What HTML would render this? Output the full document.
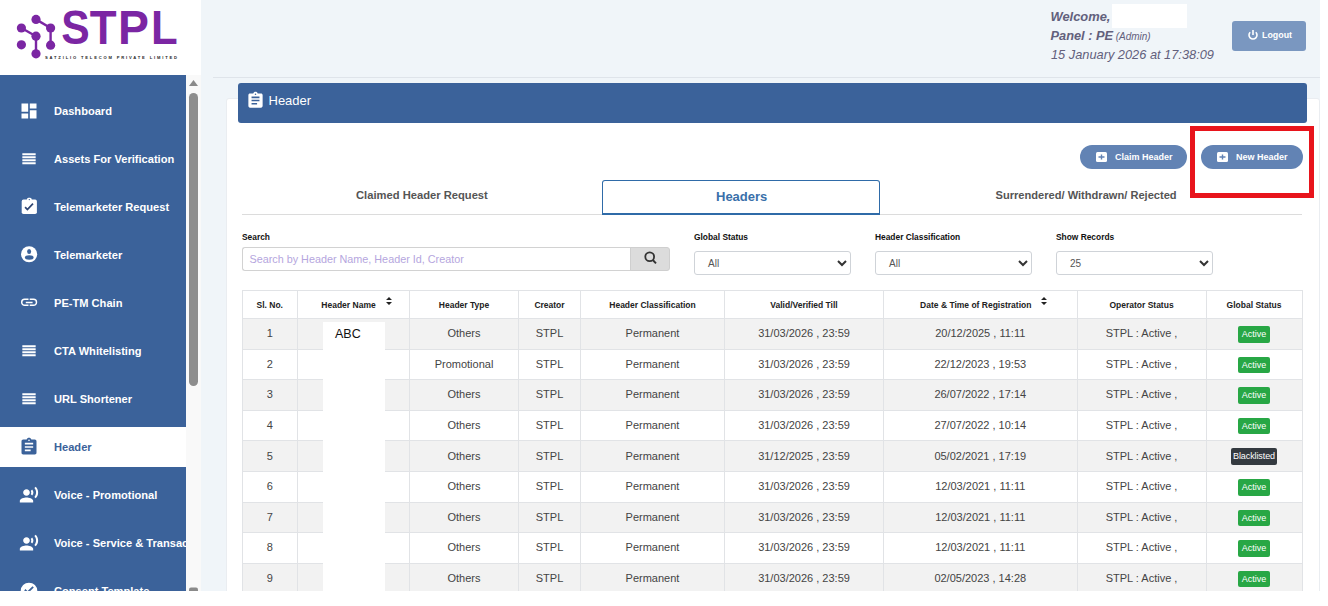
<!DOCTYPE html>
<html><head><meta charset="utf-8">
<style>
*{box-sizing:border-box;margin:0;padding:0}
html,body{width:1328px;height:606px;overflow:hidden;background:#fff;font-family:"Liberation Sans",sans-serif}
#page{position:absolute;left:0;top:0;width:1320px;height:591px;overflow:hidden;background:#f0f5f9}
.abs{position:absolute}
#logo{left:0;top:0;width:201px;height:75px;background:#fff}
#side{left:0;top:75px;width:186px;height:516px;background:#3b629a;overflow:hidden}
#track{left:186px;top:75px;width:15px;height:516px;background:#f9f9f9}
.item{position:absolute;left:0;width:186px;height:40px;color:#fff;font-weight:bold;font-size:11px;white-space:nowrap}
.item span{position:absolute;left:54px;top:13px;line-height:14px;font-size:11.1px}
.item svg{position:absolute;left:19px;top:10px;width:20px;height:20px}
.item.active{background:#fff;color:#3b629a}
#hdrline{left:213px;top:77px;width:1107px;height:1px;background:#dfe4ea}
#card{left:226px;top:98px;width:1094px;height:520px;background:#fff;border:1px solid #eaedf1;border-radius:3px}
#bar{left:238px;top:83px;width:1069px;height:40px;background:#3b629a;border-radius:3px;color:#fff;font-size:13px}
.welcome{color:#62607c;font-style:italic;white-space:nowrap}
.btnpill{position:absolute;height:24px;border-radius:12px;background:#6283b4;color:#fff;font-weight:bold;font-size:9px}
.lbl{position:absolute;font-size:8.4px;font-weight:bold;color:#111;white-space:nowrap}
.sel{position:absolute;height:24px;border:1px solid #cfd3d8;border-radius:3px;background:#fff;font-size:10px;color:#555}
.sel span{position:absolute;left:13px;top:6px}
.sel svg{position:absolute;right:2px;top:6px}
table{position:absolute;left:241.5px;top:290px;border-collapse:collapse;table-layout:fixed;width:1060px}
th,td{border:1px solid #e1e3e6;text-align:center;white-space:nowrap;overflow:hidden}
th{height:28px;font-size:8.5px;font-weight:bold;color:#222;background:#fff}
td{height:30.6px;font-size:11px;color:#444;padding-bottom:1px}
tr.o td{background:#f2f2f2}
.badge{display:inline-block;background:#28a745;color:#fff;font-size:9px;padding:0 3.5px;height:16.5px;line-height:16.5px;border-radius:2px;vertical-align:middle;position:relative;top:1px}
.badge.dark{padding:0 2.5px;letter-spacing:-0.1px}
.badge.dark{background:#343a40}
</style></head><body>
<div id="page">
  <div id="logo" class="abs">
    <svg class="abs" style="left:0;top:0" width="190" height="70" viewBox="0 0 190 70">
      <g stroke="#7b26a3" stroke-width="2.4" fill="none">
        <line x1="21.4" y1="28" x2="36" y2="36.2"/>
        <line x1="36" y1="19.4" x2="50.6" y2="28"/>
        <line x1="50.6" y1="28" x2="50.6" y2="45.2"/>
        <line x1="36" y1="36.2" x2="36" y2="53.8"/>
      </g>
      <g fill="#7b26a3">
        <circle cx="21.4" cy="28" r="4.6"/>
        <circle cx="36" cy="19.4" r="4.6"/>
        <circle cx="50.6" cy="28" r="4.6"/>
        <circle cx="36" cy="36.2" r="4.6"/>
        <circle cx="21.4" cy="44.8" r="4.6"/>
        <circle cx="50.6" cy="45.2" r="4.6"/>
        <circle cx="36" cy="53.8" r="4.6"/>
      </g>
      <g font-family="Liberation Sans" font-weight="bold" font-size="48.3" fill="#7b26a3">
        <text transform="translate(61.2 44.2) scale(0.883 1)">S</text>
        <text transform="translate(89.66 44.2) scale(0.909 1)">T</text>
        <text transform="translate(118.05 44.2) scale(0.961 1)">P</text>
        <text transform="translate(150.94 44.2) scale(0.905 1)">L</text>
      </g>
      <text x="45" y="58.8" font-family="Liberation Sans" font-weight="bold" font-size="4.1" fill="#1e1e1e" textLength="132" lengthAdjust="spacing">SATZILIO TELECOM PRIVATE LIMITED</text>
    </svg>
  </div>
  <div id="side" class="abs">
<div class="item" style="top:16px"><svg viewBox="0 0 24 24"><path fill="#fff" d="M3 13h8V3H3v10zm0 8h8v-6H3v6zm10 0h8V11h-8v10zm0-18v6h8V3h-8z"/></svg><span>Dashboard</span></div>
<div class="item" style="top:64px"><svg viewBox="0 0 24 24"><path fill="#fff" d="M4 5h16v2.5H4zM4 8.6h16v2.5H4zM4 12.2h16v2.5H4zM4 15.8h16v2.5H4z"/></svg><span>Assets For Verification</span></div>
<div class="item" style="top:112px"><svg viewBox="0 0 20 20"><rect x="2.7" y="2.6" width="15.2" height="14.4" rx="1.8" fill="#fff"/><rect x="7.9" y="0.8" width="4.8" height="3.4" rx="1.6" fill="#fff"/><circle cx="10.3" cy="2.6" r="0.7" fill="#3b629a"/><path d="M6.1 10.1L8.4 12.6L14 6.6" stroke="#2e4572" stroke-width="1.7" fill="none"/></svg><span>Telemarketer Request</span></div>
<div class="item" style="top:160px"><svg viewBox="0 0 24 24"><circle cx="12.12" cy="11.1" r="9.7" fill="#fff"/><ellipse cx="12.12" cy="7.8" rx="2.4" ry="3" fill="#3b629a"/><ellipse cx="12.3" cy="15" rx="5.2" ry="2.7" fill="#3b629a"/></svg><span>Telemarketer</span></div>
<div class="item" style="top:208px"><svg viewBox="0 0 20 20"><path d="M9.5 6.3H5.7A3 3 0 0 0 5.7 12.3H9.5M10.7 6.3H14.5A3 3 0 0 1 14.5 12.3H10.7M6.8 9.4H13.6" stroke="#fff" stroke-width="1.45" fill="none"/></svg><span>PE-TM Chain</span></div>
<div class="item" style="top:256px"><svg viewBox="0 0 24 24"><path fill="#fff" d="M4 5h16v2.5H4zM4 8.6h16v2.5H4zM4 12.2h16v2.5H4zM4 15.8h16v2.5H4z"/></svg><span>CTA Whitelisting</span></div>
<div class="item" style="top:304px"><svg viewBox="0 0 24 24"><path fill="#fff" d="M4 5h16v2.5H4zM4 8.6h16v2.5H4zM4 12.2h16v2.5H4zM4 15.8h16v2.5H4z"/></svg><span>URL Shortener</span></div>
<div class="item active" style="top:352px"><svg viewBox="0 0 24 24"><path fill="#3b629a" d="M19 3h-4.18C14.4 1.84 13.3 1 12 1c-1.3 0-2.4.84-2.82 2H5c-1.1 0-2 .9-2 2v14c0 1.1.9 2 2 2h14c1.1 0 2-.9 2-2V5c0-1.1-.9-2-2-2zm-7 0c.55 0 1 .45 1 1s-.45 1-1 1-1-.45-1-1 .45-1 1-1zm2 14H7v-2h7v2zm3-4H7v-2h10v2zm0-4H7V7h10v2z"/></svg><span>Header</span></div>
<div class="item" style="top:400px"><svg viewBox="0 0 24 24"><path fill="#fff" d="M9 13c2.21 0 4-1.79 4-4s-1.79-4-4-4-4 1.79-4 4 1.79 4 4 4zm0 2c-2.67 0-8 1.34-8 4v2h16v-2c0-2.660-5.330-4-8-4zm6.76-9.64l-1.68 1.69c.84 1.18.84 2.71 0 3.89l1.68 1.690c2.02-2.02 2.02-5.07 0-7.27zM20.07 2l-1.63 1.63c2.77 3.02 2.77 7.56 0 10.74L20.07 16c3.9-3.89 3.91-9.95 0-14z"/></svg><span>Voice - Promotional</span></div>
<div class="item" style="top:448px"><svg viewBox="0 0 24 24"><path fill="#fff" d="M9 13c2.21 0 4-1.79 4-4s-1.79-4-4-4-4 1.79-4 4 1.79 4 4 4zm0 2c-2.67 0-8 1.34-8 4v2h16v-2c0-2.660-5.330-4-8-4zm6.76-9.64l-1.68 1.69c.84 1.18.84 2.71 0 3.89l1.68 1.690c2.02-2.02 2.02-5.07 0-7.27zM20.07 2l-1.63 1.63c2.77 3.02 2.77 7.56 0 10.74L20.07 16c3.9-3.89 3.91-9.95 0-14z"/></svg><span>Voice - Service &amp; Transactional</span></div>
<div class="item" style="top:496px"><svg viewBox="0 0 24 24"><circle cx="12" cy="12" r="10" fill="#fff"/><path d="M7 10.5l3.2 3.2L17 7" stroke="#3b629a" stroke-width="2.2" fill="none"/></svg><span>Consent Template</span></div>
</div>
  <div id="track" class="abs">
    <svg class="abs" style="left:0;top:0" width="15" height="516">
      <path d="M3 11 L7.5 5 L12 11 Z" fill="#8a8a8a"/>
      <rect x="3" y="18" width="9" height="293" rx="4.5" fill="#8d8d8d"/>
      <rect x="3" y="512.5" width="9" height="5" rx="2" fill="#8a8a8a"/>
    </svg>
  </div>

  <div id="hdrline" class="abs"></div>
  <div class="abs welcome" style="left:1050.5px;top:8.7px;font-size:12.9px;font-weight:bold;line-height:16px">Welcome,</div>
  <div class="abs" style="left:1112px;top:4px;width:75px;height:24px;background:#fff"></div>
  <div class="abs welcome" style="left:1050.5px;top:27.5px;font-size:12.8px;font-weight:bold;line-height:16px">Panel : PE <span style="font-size:10px;font-weight:normal;margin-left:-1px">(Admin)</span></div>
  <div class="abs welcome" style="left:1051px;top:46.7px;font-size:12.8px;line-height:16px">15 January 2026 at 17:38:09</div>
  <div class="abs" style="left:1232px;top:21px;width:74px;height:30px;background:#7a97c0;border-radius:3px;color:#fff;font-size:9.5px;font-weight:bold">
    <svg class="abs" style="left:15px;top:8px" width="12" height="12" viewBox="0 0 12 12"><path d="M3.2 3.2 A4 4 0 1 0 8.8 3.2" stroke="#fff" stroke-width="1.6" fill="none"/><line x1="6" y1="1" x2="6" y2="6" stroke="#fff" stroke-width="1.6"/></svg>
    <span class="abs" style="left:30px;top:9px;font-size:8.9px">Logout</span>
  </div>

  <div id="card" class="abs"></div>
  <div id="bar" class="abs">
    <svg class="abs" style="left:7.5px;top:8px" width="19" height="19" viewBox="0 0 24 24"><path fill="#fff" d="M19 3h-4.18C14.4 1.84 13.3 1 12 1c-1.3 0-2.4.84-2.82 2H5c-1.1 0-2 .9-2 2v14c0 1.1.9 2 2 2h14c1.1 0 2-.9 2-2V5c0-1.1-.9-2-2-2zm-7 0c.55 0 1 .45 1 1s-.45 1-1 1-1-.45-1-1 .45-1 1-1zm2 14H7v-2h7v2zm3-4H7v-2h10v2zm0-4H7V7h10v2z"/></svg>
    <span class="abs" style="left:30.5px;top:9.8px">Header</span>
  </div>

  <div class="btnpill" style="left:1080px;top:145px;width:107px">
    <svg class="abs" style="left:16px;top:7px" width="11" height="10" viewBox="0 0 11 10"><rect x="0" y="0" width="11" height="10" rx="1.5" fill="#fff"/><path d="M2.5 5h6M5.5 2.5v5" stroke="#6283b4" stroke-width="1.4"/></svg>
    <span class="abs" style="left:35px;top:7px">Claim Header</span>
  </div>
  <div class="btnpill" style="left:1201px;top:145px;width:102px">
    <svg class="abs" style="left:16px;top:7px" width="11" height="10" viewBox="0 0 11 10"><rect x="0" y="0" width="11" height="10" rx="1.5" fill="#fff"/><path d="M2.5 5h6M5.5 2.5v5" stroke="#6283b4" stroke-width="1.4"/></svg>
    <span class="abs" style="left:35px;top:7px">New Header</span>
  </div>
  <div class="abs" style="left:1190px;top:126px;width:124px;height:72px;border:5px solid #e8141c"></div>

  <!-- tabs -->
  <div class="abs" style="left:242px;top:214px;width:1060px;height:1px;background:#dcdcdc"></div>
  <div class="abs" style="left:356px;top:188.5px;font-size:11.2px;font-weight:bold;color:#555">Claimed Header Request</div>
  <div class="abs" style="left:602px;top:180px;width:278px;height:35px;border:1px solid #2f6ba8;border-bottom:2px solid #2f6ba8;border-radius:3px 3px 0 0;background:#fff"></div>
  <div class="abs" style="left:716px;top:189px;font-size:13px;font-weight:bold;color:#3a70aa">Headers</div>
  <div class="abs" style="left:995.5px;top:188.8px;font-size:11.1px;font-weight:bold;color:#555">Surrendered/ Withdrawn/ Rejected</div>

  <!-- filters -->
  <div class="lbl" style="left:242px;top:232px">Search</div>
  <div class="abs" style="left:242px;top:247px;width:389px;height:24px;border:1px solid #d2d2d2;border-right:none;border-radius:3px 0 0 3px;background:#fff">
    <span class="abs" style="left:6.5px;top:5px;font-size:10.8px;color:#b5a6de;white-space:nowrap">Search by Header Name, Header Id, Creator</span>
  </div>
  <div class="abs" style="left:630px;top:247px;width:40px;height:24px;border:1px solid #cfcfcf;border-radius:0 3px 3px 0;background:#dcdcdc">
    <svg class="abs" style="left:10px;top:0px" width="18" height="18" viewBox="0 0 18 18"><circle cx="8.7" cy="8.8" r="4.4" stroke="#333" stroke-width="1.8" fill="none"/><line x1="11.8" y1="12" x2="15" y2="15.4" stroke="#333" stroke-width="1.9"/></svg>
  </div>

  <div class="lbl" style="left:694px;top:232px">Global Status</div>
  <div class="sel" style="left:694px;top:251px;width:157px"><span>All</span><svg width="12" height="10" viewBox="0 0 12 10"><path d="M2 3l4 4 4-4" stroke="#333" stroke-width="2" fill="none"/></svg></div>
  <div class="lbl" style="left:875px;top:232px">Header Classification</div>
  <div class="sel" style="left:875px;top:251px;width:157px"><span>All</span><svg width="12" height="10" viewBox="0 0 12 10"><path d="M2 3l4 4 4-4" stroke="#333" stroke-width="2" fill="none"/></svg></div>
  <div class="lbl" style="left:1056px;top:232px">Show Records</div>
  <div class="sel" style="left:1056px;top:251px;width:157px"><span>25</span><svg width="12" height="10" viewBox="0 0 12 10"><path d="M2 3l4 4 4-4" stroke="#333" stroke-width="2" fill="none"/></svg></div>

  <table>
    <colgroup><col style="width:55.5px"><col style="width:112px"><col style="width:109px"><col style="width:62px"><col style="width:144px"><col style="width:159px"><col style="width:193.5px"><col style="width:129px"><col style="width:96px"></colgroup>
    <tr><th>Sl. No.</th><th style="padding-right:10px">Header Name</th><th>Header Type</th><th>Creator</th><th>Header Classification</th><th>Valid/Verified Till</th><th style="padding-right:9px">Date &amp; Time of Registration</th><th>Operator Status</th><th>Global Status</th></tr>
    <tr class="o"><td>1</td><td></td><td>Others</td><td>STPL</td><td>Permanent</td><td>31/03/2026 , 23:59</td><td>20/12/2025 , 11:11</td><td>STPL : Active ,</td><td><span class="badge">Active</span></td></tr>
    <tr><td>2</td><td></td><td>Promotional</td><td>STPL</td><td>Permanent</td><td>31/03/2026 , 23:59</td><td>22/12/2023 , 19:53</td><td>STPL : Active ,</td><td><span class="badge">Active</span></td></tr>
    <tr class="o"><td>3</td><td></td><td>Others</td><td>STPL</td><td>Permanent</td><td>31/03/2026 , 23:59</td><td>26/07/2022 , 17:14</td><td>STPL : Active ,</td><td><span class="badge">Active</span></td></tr>
    <tr><td>4</td><td></td><td>Others</td><td>STPL</td><td>Permanent</td><td>31/03/2026 , 23:59</td><td>27/07/2022 , 10:14</td><td>STPL : Active ,</td><td><span class="badge">Active</span></td></tr>
    <tr class="o"><td>5</td><td></td><td>Others</td><td>STPL</td><td>Permanent</td><td>31/12/2025 , 23:59</td><td>05/02/2021 , 17:19</td><td>STPL : Active ,</td><td><span class="badge dark">Blacklisted</span></td></tr>
    <tr><td>6</td><td></td><td>Others</td><td>STPL</td><td>Permanent</td><td>31/03/2026 , 23:59</td><td>12/03/2021 , 11:11</td><td>STPL : Active ,</td><td><span class="badge">Active</span></td></tr>
    <tr class="o"><td>7</td><td></td><td>Others</td><td>STPL</td><td>Permanent</td><td>31/03/2026 , 23:59</td><td>12/03/2021 , 11:11</td><td>STPL : Active ,</td><td><span class="badge">Active</span></td></tr>
    <tr><td>8</td><td></td><td>Others</td><td>STPL</td><td>Permanent</td><td>31/03/2026 , 23:59</td><td>12/03/2021 , 11:11</td><td>STPL : Active ,</td><td><span class="badge">Active</span></td></tr>
    <tr class="o"><td>9</td><td></td><td>Others</td><td>STPL</td><td>Permanent</td><td>31/03/2026 , 23:59</td><td>02/05/2023 , 14:28</td><td>STPL : Active ,</td><td><span class="badge">Active</span></td></tr>
    <tr><td>10</td><td></td><td>Others</td><td>STPL</td><td>Permanent</td><td>31/03/2026 , 23:59</td><td>02/05/2023 , 14:28</td><td>STPL : Active ,</td><td><span class="badge">Active</span></td></tr>
  </table>
  <!-- redaction strip -->
  <div class="abs" style="left:323px;top:322px;width:62px;height:280px;background:#fff"></div>
  <div class="abs" style="left:335px;top:327px;font-size:12.5px;color:#111">ABC</div>
  <!-- sort icons -->
  <svg class="abs" style="left:385px;top:296px" width="8" height="10" viewBox="0 0 8 10"><path d="M1 4L4 1L7 4Z M1 6L4 9L7 6Z" fill="#222"/></svg>
  <svg class="abs" style="left:1040px;top:296px" width="8" height="10" viewBox="0 0 8 10"><path d="M1 4L4 1L7 4Z M1 6L4 9L7 6Z" fill="#222"/></svg>

</div>
</body></html>
